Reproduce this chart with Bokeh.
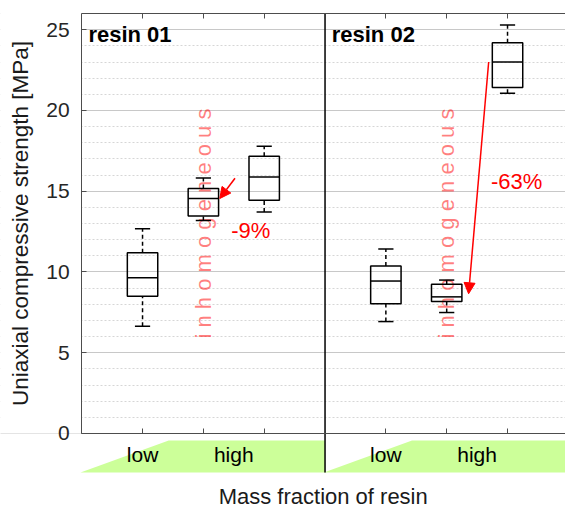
import math
from bokeh.plotting import figure
from bokeh.models import (Range1d, LinearAxis, FixedTicker, Arrow, NormalHead,
                          Grid, ColumnDataSource)
from bokeh.core.properties import value
from bokeh.embed import file_html
from bokeh.resources import INLINE

# ---- data ----
panels = ["resin 01", "resin 02"]
panel_start = [0, 4]
panel_width = 4
xpos = [1, 2, 3, 5, 6, 7]
whisker_low = [6.64, 13.19, 13.72, 6.93, 7.49, 21.07]
q1 = [8.50, 13.46, 14.44, 8.04, 8.17, 21.42]
median = [9.64, 14.55, 15.88, 9.44, 8.46, 23.00]
q3 = [11.19, 15.17, 17.16, 10.37, 9.24, 24.20]
whisker_high = [12.67, 15.82, 17.78, 11.43, 9.50, 25.30]

fraction_labels = ["low", "high", "low", "high"]
fraction_label_x = [1, 2.5, 5, 6.5]

inhom_x = [2, 6]
inhom_text = "i n h o m o g e n e o u s"

change_labels = ["-9%", "-63%"]
change_label_x = [2.78, 7.15]
change_label_y = [12.54, 15.58]
arrow_from = [(2.52, 15.8), (6.69, 23.0)]
arrow_to = [(2.27, 14.55), (6.36, 8.65)]

yticks = [0, 5, 10, 15, 20, 25]
yminor = [v for v in range(0, 27) if v % 5 != 0]
ymax = 26

y_title = "Uniaxial compressive strength [MPa]"
x_title = "Mass fraction of resin"

FONT = "Liberation Sans"
AX = "#4d4d4d"

# The frame covers the whole canvas; axes are placed at fixed locations.
p = figure(width=565, height=509, x_range=Range1d(-1.335, 7.953),
           y_range=Range1d(-4.706, 26.81), output_backend="svg",
           toolbar_location=None, x_axis_type=None, y_axis_type=None,
           min_border=0)
p.outline_line_color = None
p.background_fill_color = "white"

yt = FixedTicker(ticks=yticks, minor_ticks=yminor)
p.add_layout(Grid(dimension=1, ticker=yt, grid_line_color="#c8c8c8", grid_line_width=1,
                  minor_grid_line_color="#d6d6d6", minor_grid_line_dash="2 2",
                  minor_grid_line_width=1))
# blank the margin left of the axes (grid lines span the whole frame)
p.quad(left=[-1.335], right=[0], bottom=[0], top=[26.81], fill_color="white",
       line_color=None)

# green "mass fraction" wedges
gx, gy = [], []
for s in panel_start:
    gx.append([s - 0.02, s + 1.43, s + panel_width, s + panel_width])
    gy.append([-2.42, -0.43, -0.43, -2.42])
p.patches(gx, gy, fill_color="#ccff99", line_color=None)

# axes
left = LinearAxis(ticker=yt, fixed_location=0, bounds=(0, ymax), major_tick_in=5,
                  major_tick_out=0, minor_tick_line_color=None, axis_line_color=AX,
                  major_tick_line_color=AX, major_label_text_font=FONT,
                  major_label_text_font_size="21px",
                  major_label_text_color="#262626", major_label_standoff=8)
p.add_layout(left, "left")

xt = FixedTicker(ticks=xpos)
top = LinearAxis(ticker=xt, fixed_location=ymax, bounds=(0, 8), major_tick_in=5,
                 major_tick_out=0, minor_tick_line_color=None, axis_line_color=AX,
                 major_tick_line_color=AX, major_label_text_color=None,
                 major_label_standoff=0)
p.add_layout(top, "above")
bottom = LinearAxis(ticker=xt, fixed_location=0, bounds=(0, 8), major_tick_in=5,
                    major_tick_out=0, minor_tick_line_color=None, axis_line_color=AX,
                    major_tick_line_color=AX, major_label_text_color=None,
                    major_label_standoff=0)
p.add_layout(bottom, "below")

# "inhomogeneous" notes
p.text(x=inhom_x, y=[13.0] * len(inhom_x), text=[inhom_text] * len(inhom_x),
       angle=math.pi / 2, text_align="center", text_baseline="middle",
       text_color="red", text_alpha=0.5, text_font=value(FONT),
       text_font_size="22px")

# boxplots
src = ColumnDataSource(dict(x=xpos, lo=whisker_low, q1=q1, med=median, q3=q3,
                            hi=whisker_high,
                            l=[v - 0.25 for v in xpos], r=[v + 0.25 for v in xpos],
                            cl=[v - 0.125 for v in xpos], cr=[v + 0.125 for v in xpos]))
p.segment(x0="x", y0="q3", x1="x", y1="hi", source=src, line_color="black",
          line_width=1.5, line_dash="4 3")
p.segment(x0="x", y0="lo", x1="x", y1="q1", source=src, line_color="black",
          line_width=1.5, line_dash="4 3")
p.segment(x0="cl", y0="hi", x1="cr", y1="hi", source=src, line_color="black",
          line_width=1.5)
p.segment(x0="cl", y0="lo", x1="cr", y1="lo", source=src, line_color="black",
          line_width=1.5)
p.quad(left="l", right="r", bottom="q1", top="q3", source=src, fill_color=None,
       line_color="black", line_width=1.5)
p.segment(x0="l", y0="med", x1="r", y1="med", source=src, line_color="black",
          line_width=1.5)

# divider between panels (through the wedge strip)
p.segment(x0=[panel_start[1]], y0=[-2.42], x1=[panel_start[1]], y1=[ymax],
          line_color="black", line_width=1.5)

# panel titles
p.text(x=[s + 0.11 for s in panel_start], y=[24.68] * 2, text=panels,
       text_font=value(FONT), text_font_style="bold", text_font_size="22px",
       text_baseline="middle", text_align="left", text_color="black")

# fraction labels
p.text(x=fraction_label_x, y=[-1.33] * len(fraction_label_x), text=fraction_labels,
       text_font=value(FONT), text_font_size="21px", text_align="center",
       text_baseline="middle", text_color="black")

# change arrows and labels
for (xs, ys), (xe, ye) in zip(arrow_from, arrow_to):
    p.add_layout(Arrow(end=NormalHead(size=11, fill_color="red", line_color="red",
                                      line_width=1),
                       x_start=xs, y_start=ys, x_end=xe, y_end=ye,
                       line_color="red", line_width=1.5))
p.text(x=change_label_x, y=change_label_y, text=change_labels, text_font=value(FONT),
       text_font_size="22px", text_align="center", text_baseline="middle",
       text_color="red")

# axis titles
p.text(x=[-1.006], y=[ymax / 2], text=[y_title], angle=math.pi / 2,
       text_align="center", text_baseline="middle", text_font=value(FONT),
       text_font_size="22.5px", text_color="#1a1a1a")
p.text(x=[3.97], y=[-3.93], text=[x_title], text_align="center",
       text_baseline="middle", text_font=value(FONT), text_font_size="22px",
       text_color="#1a1a1a")

open("out.html", "w").write(file_html(p, INLINE))
